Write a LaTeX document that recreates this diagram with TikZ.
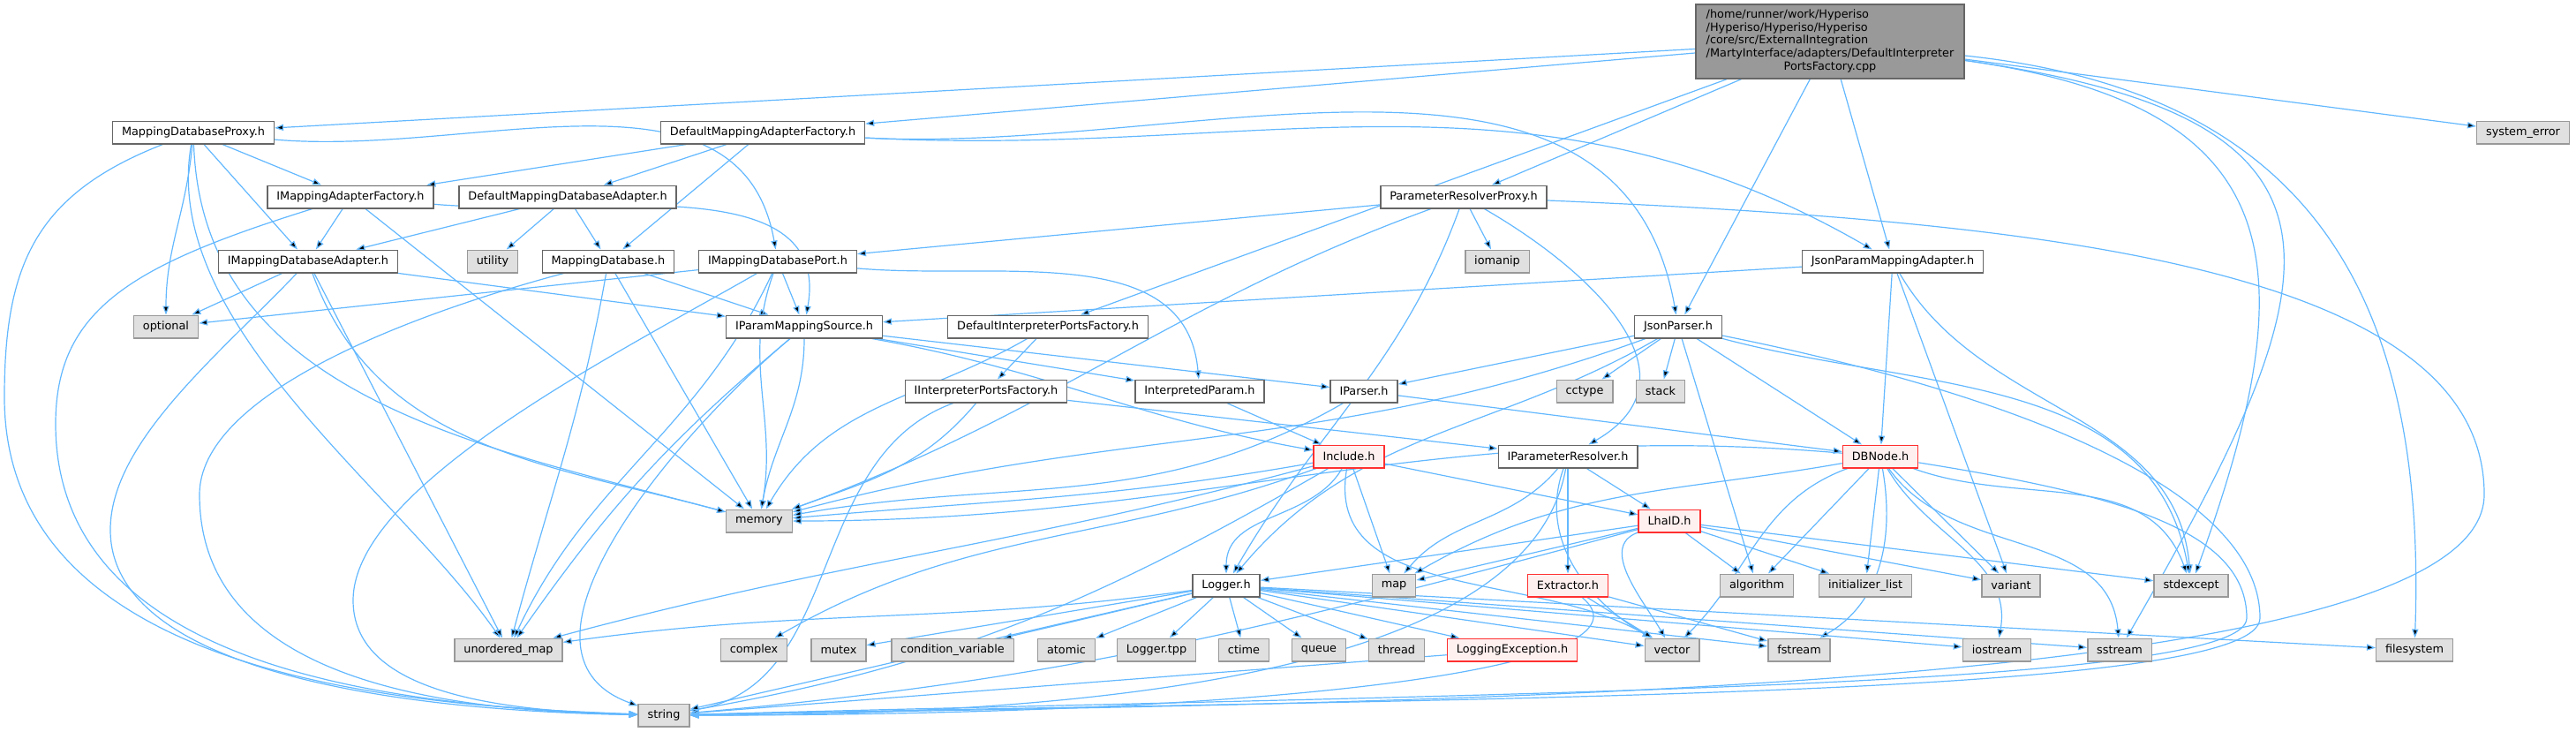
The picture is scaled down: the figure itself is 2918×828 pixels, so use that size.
\documentclass[tikz,border=0pt]{standalone}
\usepackage{fontspec}
\setmainfont{DejaVu Sans}
\usetikzlibrary{arrows.meta,backgrounds}
\definecolor{edgeblue}{HTML}{63B8FF}
\definecolor{frame}{HTML}{666666}
\definecolor{sysframe}{HTML}{999999}
\definecolor{sysfill}{HTML}{E0E0E0}
\definecolor{redframe}{HTML}{FF3030}
\definecolor{redfill}{HTML}{FFF0F0}
\definecolor{mainfill}{HTML}{999999}
\newcommand{\doxyfont}{\fontsize{3.21}{3.7}\selectfont}

\begin{document}
\begin{tikzpicture}[x=0.25pt,y=-0.25pt]
    % Setup the styles for the files
        \tikzset{file node/.style={draw=frame,
                                   fill=white,
                                   line width=0.35pt,
                                   inner xsep=2.6pt,
                                   inner ysep=1pt,
                                   minimum height=6.4pt,
                                   font=\doxyfont},
                 sys node/.style={file node, draw=sysframe, fill=sysfill},
                 red node/.style={file node, draw=redframe, fill=redfill},
                 main node/.style={file node, fill=mainfill,
                                   minimum width=76pt, minimum height=21pt},
                 dep/.style={draw=edgeblue, line width=0.3pt,
                             -{Triangle[length=2.5pt,width=1.8pt]}}}
        \useasboundingbox (0,0) rectangle (2918,828);
        % Draw the files
        \node[main node] at (2073,47) (main) {\begin{tabular}{@{}l@{}}/home/runner/work/Hyperiso\\/Hyperiso/Hyperiso/Hyperiso\\/core/src/ExternalIntegration\\/MartyInterface/adapters/DefaultInterpreter\\\multicolumn{1}{@{}c@{}}{PortsFactory.cpp}\end{tabular}};
        \node[file node] at (219,150)  (mdp)      {MappingDatabaseProxy.h};
        \node[file node] at (864,150)  (dmaf)     {DefaultMappingAdapterFactory.h};
        \node[sys node]  at (2858,150) (syserr)   {system\_error};
        \node[file node] at (397,223)  (imaf)     {IMappingAdapterFactory.h};
        \node[file node] at (643,223)  (dmda)     {DefaultMappingDatabaseAdapter.h};
        \node[file node] at (1658,223) (prp)      {ParameterResolverProxy.h};
        \node[file node] at (349,296)  (imda)     {IMappingDatabaseAdapter.h};
        \node[sys node]  at (558,296)  (utility)  {utility};
        \node[file node] at (689,296)  (md)       {MappingDatabase.h};
        \node[file node] at (881,296)  (imdp)     {IMappingDatabasePort.h};
        \node[sys node]  at (1696,296) (iomanip)  {iomanip};
        \node[file node] at (2144,296) (jpma)     {JsonParamMappingAdapter.h};
        \node[sys node]  at (188,370)  (optional) {optional};
        \node[file node] at (911,370)  (ipms)     {IParamMappingSource.h};
        \node[file node] at (1187,370) (dipf)     {DefaultInterpreterPortsFactory.h};
        \node[file node] at (1901,370) (jp)       {JsonParser.h};
        \node[file node] at (1117,443) (iipf)     {IInterpreterPortsFactory.h};
        \node[file node] at (1359,443) (ip)       {InterpretedParam.h};
        \node[file node] at (1545,443) (iparser)  {IParser.h};
        \node[sys node]  at (1795,443) (cctype)   {cctype};
        \node[sys node]  at (1881,443) (stack)    {stack};
        \node[red node]  at (1528,517) (incl)     {Include.h};
        \node[file node] at (1776,517) (ipr)      {IParameterResolver.h};
        \node[red node]  at (2130,517) (dbnode)   {DBNode.h};
        \node[sys node]  at (860,590)  (memory)   {memory};
        \node[red node]  at (1891,590) (lhaid)    {LhaID.h};
        \node[file node] at (1389,663) (logger)   {Logger.h};
        \node[sys node]  at (1579,663) (map)      {map};
        \node[red node]  at (1776,663) (extractor) {Extractor.h};
        \node[sys node]  at (1990,663) (algorithm) {algorithm};
        \node[sys node]  at (2113,663) (initlist) {initializer\_list};
        \node[sys node]  at (2278,663) (variant)  {variant};
        \node[sys node]  at (2482,663) (stdexcept) {stdexcept};
        \node[sys node]  at (576,736)  (unordmap) {unordered\_map};
        \node[sys node]  at (854,736)  (complex)  {complex};
        \node[sys node]  at (950,736)  (mutex)    {mutex};
        \node[sys node]  at (1079,736) (condvar)  {condition\_variable};
        \node[sys node]  at (1208,736) (atomic)   {atomic};
        \node[sys node]  at (1310,736) (loggertpp) {Logger.tpp};
        \node[sys node]  at (1409,736) (ctime)    {ctime};
        \node[sys node]  at (1494,736) (queue)    {queue};
        \node[sys node]  at (1582,736) (thread)   {thread};
        \node[red node]  at (1713,736) (logexc)   {LoggingException.h};
        \node[sys node]  at (1894,736) (vector)   {vector};
        \node[sys node]  at (2038,736) (fstream)  {fstream};
        \node[sys node]  at (2262,736) (iostream) {iostream};
        \node[sys node]  at (2401,736) (sstream)  {sstream};
        \node[sys node]  at (2735,736) (filesystem) {filesystem};
        \node[sys node]  at (752,810)  (string)   {string};
        % Connect the files (behind the boxes)
        \begin{pgfonlayer}{background}
        \draw[dep]
            (main) edge (mdp)
            (main) edge (dmaf)
            (main) edge (dipf)
            (main) edge (prp)
            (main) edge (jp)
            (main) edge (jpma)
            (main) edge (syserr)
            (main) edge[out=-8,in=70,looseness=1.5] (stdexcept)
            (main) edge[out=-8,in=60,looseness=1.8] (sstream)
            (main) edge[out=-6,in=88,looseness=1.2] (filesystem)
            (mdp) edge (imaf)
            (mdp) edge (imda)
            (mdp) edge[out=-5,in=100] (imdp)
            (mdp) edge[out=-95,in=90] (optional)
            (mdp) edge[out=-88,in=165] (memory)
            (mdp) edge[out=-100,in=125,looseness=0.8] (unordmap)
            (dmaf) edge (imaf)
            (dmaf) edge (dmda)
            (dmaf) edge (md)
            (dmaf) edge[out=-3,in=100] (jp)
            (dmaf) edge[out=-3,in=150] (jpma)
            (imaf) edge (imda)
            (imaf) edge[out=-5,in=80] (ipms)
            (imaf) edge (memory)
            (dmda) edge (imda)
            (dmda) edge (utility)
            (dmda) edge (md)
            (imda) edge (optional)
            (imda) edge (ipms)
            (imda) edge[out=-70,in=165] (memory)
            (imda) edge (unordmap)
            (md) edge (ipms)
            (md) edge (memory)
            (md) edge[out=-100,in=75] (unordmap)
            (imdp) edge (optional)
            (imdp) edge (ipms)
            (imdp) edge[out=-5,in=95] (ip)
            (imdp) edge[out=-110,in=80] (memory)
            (imdp) edge[out=-115,in=65] (unordmap)
            (prp) edge (imdp)
            (prp) edge (iomanip)
            (prp) edge[out=-30,in=30,looseness=1.3] (ipr)
            (prp) edge[out=-110,in=60] (logger)
            (prp) edge[out=-160,in=20] (memory)
            (jpma) edge (ipms)
            (jpma) edge (dbnode)
            (jpma) edge (variant)
            (jpma) edge[out=-60,in=95] (stdexcept)
            (ipms) edge (ip)
            (ipms) edge (iparser)
            (ipms) edge[out=-10,in=170] (incl)
            (ipms) edge[out=-90,in=80] (memory)
            (ipms) edge[out=-140,in=55] (unordmap)
            (ipms) edge[out=-140,in=160] (string)
            (dipf) edge (iipf)
            (dipf) edge[out=-150,in=60] (memory)
            (jp) edge (iparser)
            (jp) edge (cctype)
            (jp) edge (stack)
            (jp) edge (dbnode)
            (jp) edge (algorithm)
            (jp) edge[out=-160,in=15] (memory)
            (jp) edge[out=-150,in=50] (logger)
            (jp) edge[out=-15,in=100] (stdexcept)
            (iipf) edge (ipr)
            (iipf) edge[out=-130,in=20] (memory)
            (iipf) edge[out=-160,in=10] (string)
            (ip) edge (incl)
            (iparser) edge[out=-150,in=10] (memory)
            (iparser) edge (dbnode)
            (incl) edge (lhaid)
            (incl) edge[out=-120,in=90] (logger)
            (incl) edge (map)
            (incl) edge[out=-100,in=150] (vector)
            (incl) edge[out=-170,in=5] (memory)
            (incl) edge[out=-160,in=30] (complex)
            (incl) edge[out=-165,in=15] (unordmap)
            (incl) edge[out=-150,in=10] (string)
            (ipr) edge (lhaid)
            (ipr) edge (extractor)
            (ipr) edge[out=-130,in=50] (map)
            (ipr) edge[out=-110,in=150] (vector)
            (ipr) edge[out=-100,in=0,out distance=50pt,in distance=150pt] (string)
            (dbnode) edge[out=175,in=0] (memory)
            (dbnode) edge[out=-170,in=30] (map)
            (dbnode) edge[out=-160,in=45] (vector)
            (dbnode) edge (algorithm)
            (dbnode) edge (initlist)
            (dbnode) edge[out=-80,in=30] (fstream)
            (dbnode) edge (variant)
            (dbnode) edge[out=-60,in=80] (iostream)
            (dbnode) edge[out=-55,in=95] (sstream)
            (dbnode) edge[out=-20,in=110] (stdexcept)
            (lhaid) edge (logger)
            (lhaid) edge (map)
            (lhaid) edge (algorithm)
            (lhaid) edge (initlist)
            (lhaid) edge (variant)
            (lhaid) edge (stdexcept)
            (lhaid) edge[out=-160,in=120] (vector)
            (lhaid) edge[out=-165,in=5] (string)
            (logger) edge (condvar)
            (logger) edge (atomic)
            (logger) edge (loggertpp)
            (logger) edge (ctime)
            (logger) edge (queue)
            (logger) edge (thread)
            (logger) edge (logexc)
            (logger) edge (vector)
            (logger) edge (fstream)
            (logger) edge (iostream)
            (logger) edge (sstream)
            (logger) edge (filesystem)
            (logger) edge (mutex)
            (logger) edge[out=-172,in=8] (unordmap)
            (logger) edge (string)
            (extractor) edge (vector)
            (extractor) edge (fstream)
            (extractor) edge[out=-40,in=0,out distance=30pt,in distance=175pt] (string)
            (logexc) edge (string);
        % Long routes down the left side
        \draw[dep] (mdp) .. controls (40,220) and (5,300) .. (5,450)
                         .. controls (5,780) and (500,800) .. (string);
        \draw[dep] (imaf) .. controls (150,300) and (63,350) .. (63,480)
                          .. controls (63,760) and (450,800) .. (string);
        \draw[dep] (imda) .. controls (250,400) and (125,500) .. (125,600)
                          .. controls (125,760) and (450,805) .. (string);
        \draw[dep] (md) .. controls (450,360) and (226,450) .. (226,560)
                        .. controls (226,770) and (500,805) .. (string);
        \draw[dep] (imdp) .. controls (700,400) and (400,550) .. (400,680)
                          .. controls (400,780) and (550,805) .. (string);
        % Long routes round the right side
        \draw[dep] (prp) .. controls (2300,250) and (2814,300) .. (2814,560)
                         .. controls (2814,790) and (1600,795) .. (string);
        \draw[dep] (jp) .. controls (2300,450) and (2560,560) .. (2560,700)
                        .. controls (2560,790) and (1700,790) .. (string);
        \draw[dep] (dbnode) .. controls (2400,560) and (2545,600) .. (2545,700)
                            .. controls (2545,780) and (1700,785) .. (string);
        \end{pgfonlayer}
\end{tikzpicture}
\end{document}
